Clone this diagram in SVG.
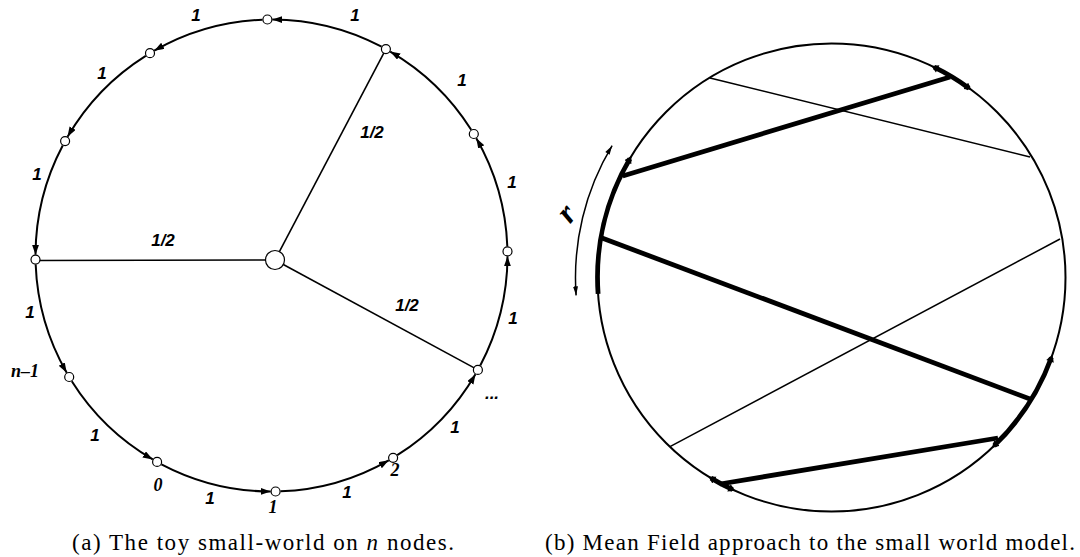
<svg xmlns="http://www.w3.org/2000/svg" width="1080" height="557" viewBox="0 0 1080 557">
<style>
.node{fill:#fff;stroke:#000;stroke-width:1.2}
.arc{fill:none;stroke:#000;stroke-width:2}
.edge{stroke:#000;stroke-width:1.6;fill:none}
.lbl{font-family:"Liberation Sans",Arial,sans-serif;font-weight:bold;font-style:italic;font-size:17px;text-anchor:middle;fill:#000}
.slbl{font-family:"Liberation Serif","Times New Roman",serif;font-weight:bold;font-style:italic;font-size:18px;text-anchor:middle;fill:#000}
.ring{fill:none;stroke:#000;stroke-width:2}
.thin{stroke:#000;stroke-width:1.5;fill:none}
.thick{stroke:#000;stroke-width:4.8;fill:none}
.cap{font-family:"Liberation Serif","Times New Roman",serif;font-size:23px;fill:#000}
</style>
<defs>
<marker id="ah" markerUnits="userSpaceOnUse" markerWidth="11" markerHeight="8" refX="10" refY="3.5" orient="auto"><path d="M0,0 L10,3.5 L0,7 z" fill="#000"/></marker>
<marker id="sah" markerUnits="userSpaceOnUse" markerWidth="10" markerHeight="6" refX="9" refY="2.5" orient="auto"><path d="M0,0 L9,2.5 L0,5 z" fill="#000"/></marker>
<marker id="sahs" markerUnits="userSpaceOnUse" markerWidth="10" markerHeight="6" refX="0" refY="2.5" orient="auto"><path d="M9,0 L0,2.5 L9,5 z" fill="#000"/></marker>
<marker id="fl" markerUnits="userSpaceOnUse" markerWidth="8" markerHeight="9" refX="4" refY="4" orient="auto"><path d="M0,0 L7,4 L0,8 z" fill="#000"/></marker>
<marker id="fls" markerUnits="userSpaceOnUse" markerWidth="8" markerHeight="9" refX="3" refY="4" orient="auto"><path d="M7,0 L0,4 L7,8 z" fill="#000"/></marker>
</defs>

<g id="connectors">
<line class="edge" x1="275" y1="260" x2="35.5" y2="260.5"/>
<line class="edge" x1="275" y1="260" x2="385.9" y2="49.1"/>
<line class="edge" x1="275" y1="260" x2="477.9" y2="369.9"/>
<path class="arc" marker-end="url(#ah)" d="M507.33,246.44 A236,236 0 0 0 476.29,138.22"/>
<path class="arc" marker-end="url(#ah)" d="M471.20,129.74 A236,236 0 0 0 390.21,51.53"/>
<path class="arc" marker-end="url(#ah)" d="M381.57,46.74 A236,236 0 0 0 272.32,19.50"/>
<path class="arc" marker-end="url(#ah)" d="M262.44,19.67 A236,236 0 0 0 154.22,50.71"/>
<path class="arc" marker-end="url(#ah)" d="M145.74,55.80 A236,236 0 0 0 67.53,136.79"/>
<path class="arc" marker-end="url(#ah)" d="M62.74,145.43 A236,236 0 0 0 35.50,254.68"/>
<path class="arc" marker-end="url(#ah)" d="M35.67,264.56 A236,236 0 0 0 66.71,372.78"/>
<path class="arc" marker-end="url(#ah)" d="M71.80,381.26 A236,236 0 0 0 152.79,459.47"/>
<path class="arc" marker-end="url(#ah)" d="M161.43,464.26 A236,236 0 0 0 270.68,491.50"/>
<path class="arc" marker-end="url(#ah)" d="M280.56,491.33 A236,236 0 0 0 388.78,460.29"/>
<path class="arc" marker-end="url(#ah)" d="M397.26,455.20 A236,236 0 0 0 475.47,374.21"/>
<path class="arc" marker-end="url(#ah)" d="M480.26,365.57 A236,236 0 0 0 507.50,256.32"/>
</g>

<g id="nodes">
<circle id="hub" class="node" cx="275" cy="260" r="9.5"/>
<circle id="n0" class="node" cx="507.5" cy="251.4" r="4.5"/>
<circle id="n1" class="node" cx="477.9" cy="369.9" r="4.5"/>
<circle id="n2" class="node" cx="393.1" cy="457.8" r="4.5"/>
<circle id="n3" class="node" cx="275.6" cy="491.5" r="4.5"/>
<circle id="n4" class="node" cx="157.1" cy="461.9" r="4.5"/>
<circle id="n5" class="node" cx="69.2" cy="377.0" r="4.5"/>
<circle id="n6" class="node" cx="35.5" cy="259.6" r="4.5"/>
<circle id="n7" class="node" cx="65.1" cy="141.1" r="4.5"/>
<circle id="n8" class="node" cx="150.0" cy="53.2" r="4.5"/>
<circle id="n9" class="node" cx="267.4" cy="19.5" r="4.5"/>
<circle id="n10" class="node" cx="385.9" cy="49.1" r="4.5"/>
<circle id="n11" class="node" cx="473.8" cy="134.0" r="4.5"/>
</g>

<g id="labels">
<text class="lbl" x="196" y="21">1</text>
<text class="lbl" x="355" y="21">1</text>
<text class="lbl" x="102" y="79">1</text>
<text class="lbl" x="462" y="86">1</text>
<text class="lbl" x="37" y="180">1</text>
<text class="lbl" x="512" y="188">1</text>
<text class="lbl" x="163" y="246">1/2</text>
<text class="lbl" x="372" y="138">1/2</text>
<text class="lbl" x="407" y="311">1/2</text>
<text class="lbl" x="30" y="318">1</text>
<text class="lbl" x="513" y="324">1</text>
<text class="lbl" x="95" y="441">1</text>
<text class="lbl" x="455" y="433">1</text>
<text class="lbl" x="210" y="504">1</text>
<text class="lbl" x="347" y="498">1</text>
<text class="lbl" x="492" y="399">...</text>
<text class="slbl" x="25" y="377">n–1</text>
<text class="slbl" x="158" y="491">0</text>
<text class="slbl" x="273" y="513">1</text>
<text class="slbl" x="395" y="476">2</text>
</g>

<g id="meanfield">
<circle class="ring" cx="831.5" cy="277.5" r="234"/>
<line class="thin" x1="710" y1="78" x2="1030" y2="157"/>
<line class="thin" x1="1060" y1="239" x2="670" y2="446.7"/>
<line class="thick" x1="622.7" y1="176" x2="950" y2="77"/>
<line class="thick" x1="602" y1="238" x2="1030" y2="399"/>
<line class="thick" x1="998" y1="438" x2="720" y2="484"/>
<path class="thick" marker-end="url(#fl)" d="M598.1,293.8 A234,234 0 0 1 629.9,158.7"/>
<path class="thick" marker-start="url(#fls)" marker-end="url(#fl)" d="M934.1,67.2 A234,234 0 0 1 969.0,88.2"/>
<path class="thick" marker-start="url(#fls)" marker-end="url(#fl)" d="M1051.4,357.5 A234,234 0 0 1 994.1,445.8"/>
<path class="thick" marker-start="url(#fls)" marker-end="url(#fl)" d="M732.6,489.6 A234,234 0 0 1 711.0,478.1"/>
<path class="thin" stroke-width="1.2" marker-start="url(#sahs)" marker-end="url(#sah)" d="M612.1,145.7 A256,256 0 0 0 576.1,295.4"/>
<text x="567" y="223" transform="rotate(-50 567 214)" font-family="Liberation Serif, serif" font-weight="bold" font-style="italic" font-size="32" text-anchor="middle">r</text>
</g>

<g id="captions">
<text class="cap" x="72" y="550" textLength="382" lengthAdjust="spacing">(a) The toy small-world on <tspan font-style="italic">n</tspan> nodes.</text>
<text class="cap" x="545" y="550" textLength="530" lengthAdjust="spacing">(b) Mean Field approach to the small world model.</text>
</g>
</svg>
